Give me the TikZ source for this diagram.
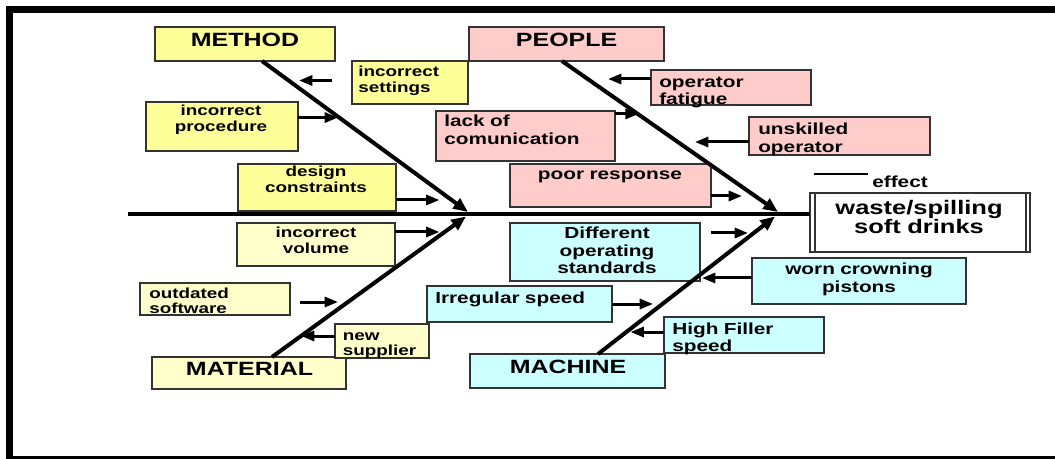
\documentclass[tikz,border=0pt]{standalone}
\usepackage{fontspec}
\setmainfont{Liberation Sans}[FakeStretch=1.3]
\usetikzlibrary{arrows.meta,fit}
\definecolor{ylw}{HTML}{FFFF99}
\definecolor{pylw}{HTML}{FFFFCC}
\definecolor{pnk}{HTML}{FFCCCC}
\definecolor{cyn}{HTML}{CCFFFF}
\newcommand\hdfnt{\fontsize{14.4pt}{17pt}\selectfont\bfseries}
\newcommand\lfnt{\fontsize{10.9pt}{11.5pt}\selectfont\bfseries}
\newcommand\rfnt{\fontsize{12pt}{13.05pt}\selectfont\bfseries}
\newcommand\efnt{\fontsize{14.7pt}{14.25pt}\selectfont\bfseries}
\newcommand\bx[4]{\node[box,fill=#2,fit={#3 #4}] (#1) {};}
\begin{document}
\begin{tikzpicture}[x=0.75pt,y=-0.75pt,
  box/.style={draw=black!80,line width=0.8pt,inner sep=0pt,outer sep=0pt},
  hd/.style={anchor=base,inner sep=0pt,font=\hdfnt},
  lc/.style={anchor=base,inner sep=0pt,text width=150pt,align=center,font=\lfnt},
  ll/.style={anchor=base west,inner sep=0pt,text width=150pt,align=left,font=\lfnt},
  rc/.style={anchor=base,inner sep=0pt,text width=170pt,align=center,font=\rfnt},
  rl/.style={anchor=base west,inner sep=0pt,text width=170pt,align=left,font=\rfnt},
  arr/.style={line width=2.25pt,-{Triangle[length=10pt,width=7.5pt]}},
  bone/.style={line width=3pt,-{Triangle[length=11pt,width=9pt]}},
  spine/.style={line width=2.4pt}]
\useasboundingbox (0,0) rectangle (1055,459);
% frame
\fill[black] (6,6) rectangle (1055,13);
\fill[black] (6,6) rectangle (13,458.5);
\fill[black] (6,456) rectangle (1055,458.5);
% boxes
\bx{method}{ylw}{(155,27)}{(335,61)}
\bx{people}{pnk}{(469,27)}{(664,61)}
\bx{material}{pylw}{(152,357)}{(346,389)}
\bx{machine}{cyn}{(470,354)}{(665,388)}
\bx{iset}{ylw}{(352,61)}{(468,104)}
\bx{iproc}{ylw}{(146,102)}{(298,151)}
\bx{design}{ylw}{(238,164)}{(396,211)}
\bx{ivol}{pylw}{(237,223)}{(395,266)}
\bx{outd}{pylw}{(140,283)}{(290,315)}
\bx{newsup}{pylw}{(335,324)}{(429,358)}
\bx{fatig}{pnk}{(651,70)}{(811,105)}
\bx{lack}{pnk}{(436,111)}{(615,161)}
\bx{unsk}{pnk}{(749,117)}{(930,155)}
\bx{poor}{pnk}{(510,164)}{(711,207)}
\bx{diff}{cyn}{(510,223)}{(700,281)}
\bx{worn}{cyn}{(752,258)}{(966,304)}
\bx{irreg}{cyn}{(427,286)}{(612,322)}
\bx{high}{cyn}{(664,317)}{(824,353)}
\node[box,fill=white,fit={(810,193) (1030,252)}] (effect) {};
\draw[black!80,line width=0.8pt] (effect.north west) ++(5,0) coordinate (ei1) -- (ei1 |- effect.south);
\draw[black!80,line width=0.8pt] (effect.north east) ++(-4,0) coordinate (ei2) -- (ei2 |- effect.south);
\draw[black!80,line width=1.5pt] (effect.south west) -- (effect.south east);
% texts
\node[hd] (tmethod) at (245,46.7) {METHOD};
\node[hd] (tpeople) at (566.6,46.7) {PEOPLE};
\node[hd] (tmaterial) at (249.5,375.7) {MATERIAL};
\node[hd] (tmachine) at (568,373.3) {MACHINE};
\node[ll] (tiset) at (358,76.7) {incorrect\\settings};
\node[lc] (tiproc) at (221,116) {incorrect\\procedure};
\node[lc] (tdesign) at (316,176.7) {design\\constraints};
\node[lc] (tivol) at (316,237.7) {incorrect\\volume};
\node[ll] (toutd) at (149,298.3) {outdated\\software};
\node[ll] (tnewsup) at (342.5,340) {new\\supplier};
\node[rl] (tfatig) at (659,87.3) {operator\\fatigue};
\node[rl] (tlack) at (444,126.7) {lack of\\comunication};
\node[rl] (tunsk) at (758,135) {unskilled\\operator};
\node[rc] (tpoor) at (610,180) {poor response};
\node[rc] (tdiff) at (607,239) {Different\\operating\\standards};
\node[rc] (tworn) at (859,275) {worn crowning\\pistons};
\node[rl] (tirreg) at (435,303.3) {Irregular speed};
\node[rl] (thigh) at (672,334.3) {High Filler\\speed};
\node[rc] (teffect) at (900,187.7) {effect};
\node[anchor=base,inner sep=0pt,text width=200pt,align=center,font=\efnt] (twaste) at (919,214.3) {waste/spilling\\soft drinks};
\coordinate (el1) at (814,174);
\coordinate (el2) at (868,174);
\draw[line width=0.8pt] (el1) -- (el2);
% spine
\coordinate (sp) at (128,214);
\draw[spine] (sp) -- (sp -| effect.west);
% bones
\coordinate (mtip) at (468,212);
\coordinate (ptip) at (778,212);
\coordinate (mattip) at (466,216.5);
\coordinate (mactip) at (775,216.5);
\draw[bone] ([xshift=12.75pt]method.south) -- (mtip);
\draw[bone] ([xshift=-3.4pt]people.south) -- (ptip);
\draw[bone] ([xshift=17.25pt]material.north) -- (mattip);
\draw[bone] ([xshift=22.9pt]machine.north) -- (mactip);
% cause arrows
\coordinate (s1) at (332,80.5);   \coordinate (t1) at (299,80.5);
\coordinate (t2) at (338,117.6);
\coordinate (t3) at (439.5,200);
\coordinate (t4) at (608,79);
\coordinate (t5) at (638.6,114);
\coordinate (t6) at (695,142);
\coordinate (t7) at (742,196);
\coordinate (t8) at (439.5,232);
\coordinate (s9) at (300,302);    \coordinate (t9) at (338,302);
\coordinate (t10) at (301,336);
\coordinate (s11) at (711,233);   \coordinate (t11) at (748,233);
\coordinate (t12) at (702,278);
\coordinate (t13) at (653,304);
\coordinate (t14) at (630.5,332);
\draw[arr] (s1) -- (t1);
\draw[arr] (iproc.east |- t2) -- (t2);
\draw[arr] (design.east |- t3) -- (t3);
\draw[arr] (fatig.west |- t4) -- (t4);
\draw[arr] (lack.east |- t5) -- (t5);
\draw[arr] (unsk.west |- t6) -- (t6);
\draw[arr] (poor.east |- t7) -- (t7);
\draw[arr] (ivol.east |- t8) -- (t8);
\draw[arr] (s9) -- (t9);
\draw[arr] (newsup.west |- t10) -- (t10);
\draw[arr] (s11) -- (t11);
\draw[arr] (worn.west |- t12) -- (t12);
\draw[arr] (irreg.east |- t13) -- (t13);
\draw[arr] (high.west |- t14) -- (t14);
\end{tikzpicture}
\end{document}
